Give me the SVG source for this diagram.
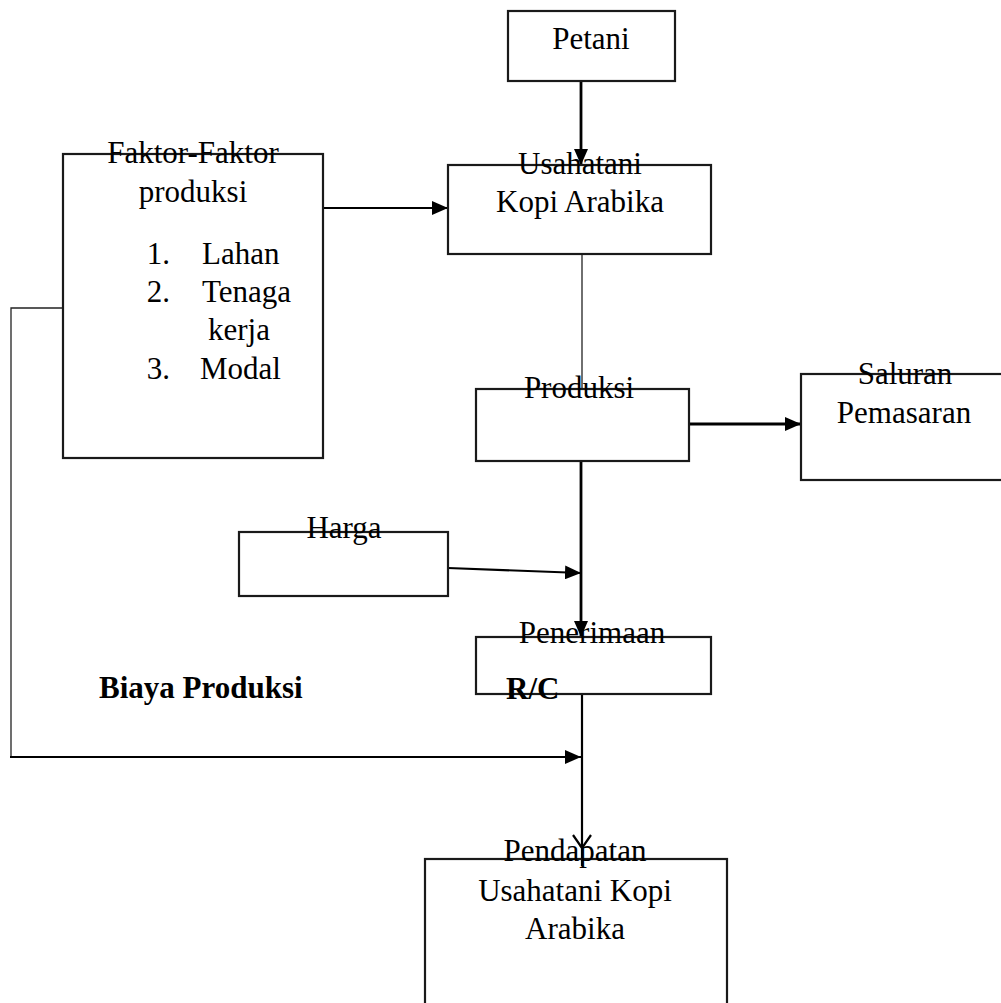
<svg xmlns="http://www.w3.org/2000/svg" width="1001" height="1003" viewBox="0 0 1001 1003">
<style>
.box{fill:none;stroke:#1a1a1a;stroke-width:2.2}
.t{font-family:"Liberation Serif","Times New Roman",serif;font-size:31px;fill:#000}
.c{text-anchor:middle}
.b{font-weight:bold}
.thick{stroke:#000;stroke-width:2.8;fill:none}
.mid{stroke:#000;stroke-width:2.2;fill:none}
.thin{stroke:#222;stroke-width:1.3;fill:none}
</style>
<defs>
<marker id="ah" markerUnits="userSpaceOnUse" markerWidth="16" markerHeight="14" refX="16" refY="7" orient="auto">
<path d="M0,0 L16,7 L0,14 z" fill="#000"/>
</marker>
</defs>
<rect width="1001" height="1003" fill="#fff"/>

<g id="connectors">
<line class="thick" x1="581" y1="81" x2="581" y2="165" marker-end="url(#ah)"/>
<line class="mid" x1="323" y1="208" x2="448" y2="208" marker-end="url(#ah)"/>
<line class="thin" x1="582" y1="254" x2="582" y2="389"/>
<line class="thick" x1="689" y1="424" x2="801" y2="424" marker-end="url(#ah)"/>
<line class="thick" x1="581" y1="461" x2="581" y2="637" marker-end="url(#ah)"/>
<line class="mid" x1="448" y1="568" x2="581" y2="573" marker-end="url(#ah)"/>
<polyline class="thin" points="63,308 11,308 11,757"/>
<line class="mid" x1="10" y1="757" x2="581" y2="757" marker-end="url(#ah)"/>
<line class="mid" x1="582" y1="694" x2="582" y2="866"/>
<polyline class="mid" points="573,835 582,848 591,835"/>
</g>

<g id="petani">
<rect class="box" x="508" y="11" width="167" height="70"/>
<text class="t c" x="591" y="49">Petani</text>
</g>

<g id="usahatani">
<rect class="box" x="448" y="165" width="263" height="89"/>
<text class="t c" x="580" y="174">Usahatani</text>
<text class="t c" x="580" y="212">Kopi Arabika</text>
</g>

<g id="faktor">
<rect class="box" x="63" y="154" width="260" height="304"/>
<text class="t c" x="193" y="163">Faktor-Faktor</text>
<text class="t c" x="193" y="202">produksi</text>
<text class="t" x="170" y="264" text-anchor="end">1.</text>
<text class="t" x="202" y="264">Lahan</text>
<text class="t" x="170" y="302" text-anchor="end">2.</text>
<text class="t" x="202" y="302">Tenaga</text>
<text class="t" x="208" y="340">kerja</text>
<text class="t" x="170" y="379" text-anchor="end">3.</text>
<text class="t" x="200" y="379">Modal</text>
</g>

<g id="produksi">
<rect class="box" x="476" y="389" width="213" height="72"/>
<text class="t c" x="579" y="398">Produksi</text>
</g>

<g id="saluran">
<rect class="box" x="801" y="374" width="202" height="106"/>
<text class="t c" x="905" y="384">Saluran</text>
<text class="t c" x="904" y="423">Pemasaran</text>
</g>

<g id="harga">
<rect class="box" x="239" y="532" width="209" height="64"/>
<text class="t c" x="344" y="538">Harga</text>
</g>

<g id="penerimaan">
<rect class="box" x="476" y="637" width="235" height="57"/>
<text class="t c" x="592" y="643">Penerimaan</text>
<text class="t b" x="506" y="699">R/C</text>
</g>

<g id="biaya">
<text class="t b" x="99" y="698">Biaya Produksi</text>
</g>

<g id="pendapatan">
<rect class="box" x="425" y="859" width="302" height="160"/>
<text class="t c" x="575" y="861">Pendapatan</text>
<text class="t c" x="575" y="901">Usahatani Kopi</text>
<text class="t c" x="575" y="939">Arabika</text>
</g>
</svg>
